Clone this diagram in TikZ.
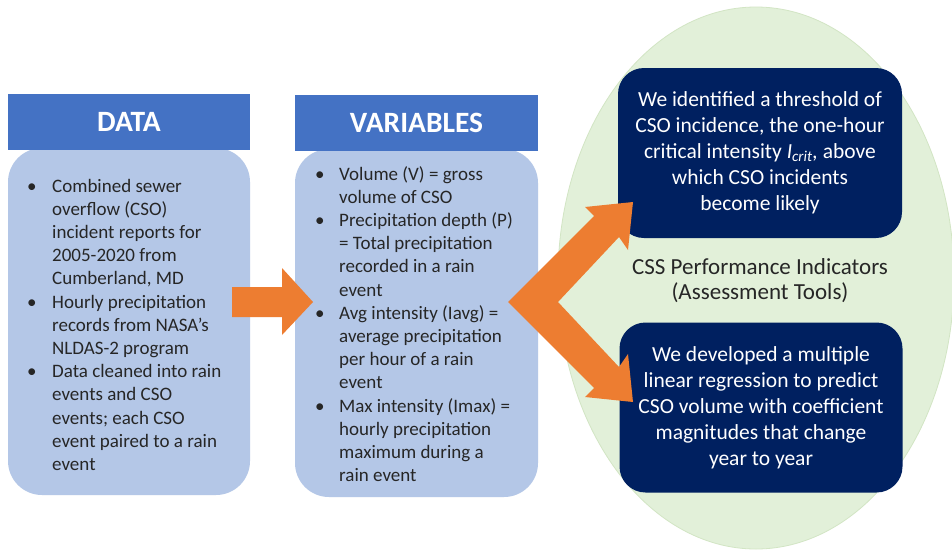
\documentclass[tikz,border=0pt]{standalone}
\usepackage{fontspec}
\setmainfont{Carlito}
\usetikzlibrary{calc,shapes.geometric}

\definecolor{hdrblue}{HTML}{4472C4}
\definecolor{bodyblue}{HTML}{B4C7E7}
\definecolor{accorange}{HTML}{ED7D31}
\definecolor{navy}{HTML}{002060}
\definecolor{palegreen}{HTML}{E2F0D9}
\definecolor{greenrim}{HTML}{D2E5C4}
\definecolor{ink}{HTML}{262626}

% bullet cell of a given width
\newcommand\bulletcell[1]{\makebox[#1][l]{\textbullet}}

\begin{document}
\begin{tikzpicture}[x=1pt,y=-1pt,
  header/.style={fill=hdrblue, minimum height=56pt, inner sep=0pt,
    text=white, font=\fontsize{29.5}{33}\selectfont\bfseries},
  panel/.style={fill=bodyblue, rounded corners=34pt, inner sep=0pt},
  bullets/.style={anchor=base west, inner sep=0pt, text=ink,
    font=\fontsize{19}{23.2}\selectfont},
  result/.style={fill=navy, rounded corners=26pt, minimum height=170pt,
    text=white, align=center, inner sep=0pt,
    font=\fontsize{21.5}{26}\selectfont},
  blockarrow/.style={fill=accorange}
]
\useasboundingbox[fill=white] (0,0) rectangle (952,552);

% green backdrop for the performance indicators
\node[ellipse, fill=palegreen, draw=greenrim, line width=0.8pt, inner sep=0pt,
  minimum width=396pt, minimum height=542pt] (cssring) at (756,278) {};

% DATA column
\node[panel, minimum width=242pt, minimum height=347pt] (datapanel) at (129,321.5) {};
\node[header, minimum width=242pt] (datahead) at (129,122) {DATA};
\node[bullets] (datalist) at (27,192) {%
\begin{tabular}[t]{@{}l@{}l@{}}
\bulletcell{25pt} & Combined sewer\\
 & overflow (CSO)\\
 & incident reports for\\
 & 2005-2020 from\\
 & Cumberland, MD\\
\bulletcell{25pt} & Hourly precipitation\\
 & records from NASA’s\\
 & NLDAS-2 program\\
\bulletcell{25pt} & Data cleaned into rain\\
 & events and CSO\\
 & events; each CSO\\
 & event paired to a rain\\
 & event
\end{tabular}};

% VARIABLES column
\node[panel, minimum width=243pt, minimum height=348pt] (varpanel) at (416.5,323) {};
\node[header, minimum width=243pt] (varhead) at (416.5,123) {VARIABLES};
\node[bullets] (varlist) at (315,180) {%
\begin{tabular}[t]{@{}l@{}l@{}}
\bulletcell{24pt} & Volume (V) = gross\\
 & volume of CSO\\
\bulletcell{24pt} & Precipitation depth (P)\\
 & = Total precipitation\\
 & recorded in a rain\\
 & event\\
\bulletcell{24pt} & Avg intensity (Iavg) =\\
 & average precipitation\\
 & per hour of a rain\\
 & event\\
\bulletcell{24pt} & Max intensity (Imax) =\\
 & hourly precipitation\\
 & maximum during a\\
 & rain event
\end{tabular}};

% arrow from DATA to VARIABLES
\fill[blockarrow] (232,287) -- (282,287) -- (282,268) -- (313,302)
  -- (282,335) -- (282,317) -- (232,317) -- cycle;

% indicator boxes
\node[result, minimum width=284pt] (threshold) at (760,153)
  {We identified a threshold of\\CSO incidence, the one-hour\\critical intensity \textit{I\textsubscript{crit},} above\\which CSO incidents\\become likely};
\node[result, minimum width=283pt] (regression) at (761,407.5)
  {We developed a multiple\\linear regression to predict\\CSO volume with coefficient\\magnitudes that change\\year to year};
\node[text=ink, align=center, font=\fontsize{23}{25}\selectfont] (indicators)
  at (760,281) {CSS Performance Indicators\\(Assessment Tools)};

% forked arrow from VARIABLES to both indicator boxes
\fill[blockarrow] (508,302) -- (594,216) -- (585,207) -- (633,202)
  -- (628,250) -- (619,237) -- (558,302) -- (619,367) -- (628,354)
  -- (633,402) -- (585,397) -- (594,388) -- cycle;
\end{tikzpicture}
\end{document}
